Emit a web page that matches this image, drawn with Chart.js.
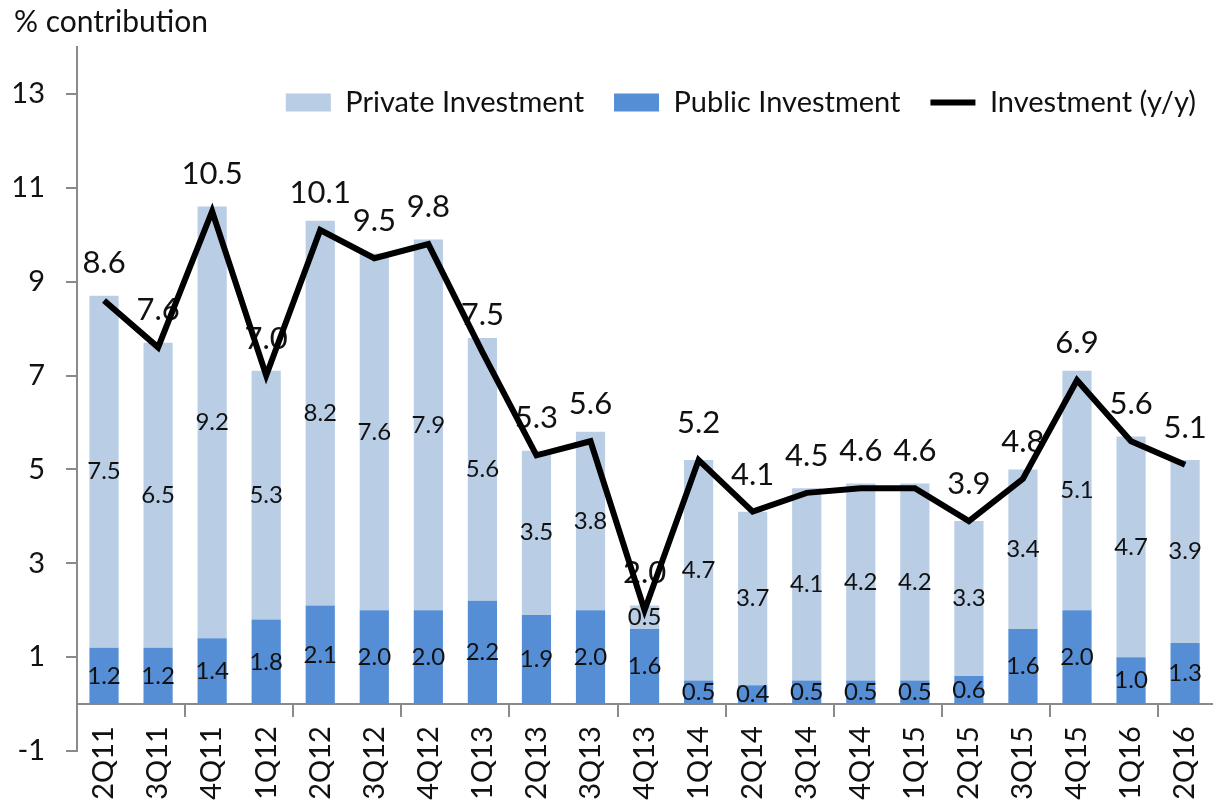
<!DOCTYPE html>
<html lang="en">
<head>
    <meta charset="UTF-8">
    <title>Investment contribution</title>
    <script src="https://cdn.jsdelivr.net/npm/chart.js"></script>
    <style>
        body { margin: 0; background: #fff; }
        canvas { display: block; }
    </style>
</head>
<body>
    <canvas id="investChart" width="1230" height="807"></canvas>
    <script>
        // Quarters on the x axis
        const quarters = ['2Q11', '3Q11', '4Q11', '1Q12', '2Q12', '3Q12', '4Q12', '1Q13', '2Q13', '3Q13', '4Q13',
            '1Q14', '2Q14', '3Q14', '4Q14', '1Q15', '2Q15', '3Q15', '4Q15', '1Q16', '2Q16'];

        // Contributions (percentage points)
        const publicInv = [1.2, 1.2, 1.4, 1.8, 2.1, 2.0, 2.0, 2.2, 1.9, 2.0, 1.6,
            0.5, 0.4, 0.5, 0.5, 0.5, 0.6, 1.6, 2.0, 1.0, 1.3];
        const privateInv = [7.5, 6.5, 9.2, 5.3, 8.2, 7.6, 7.9, 5.6, 3.5, 3.8, 0.5,
            4.7, 3.7, 4.1, 4.2, 4.2, 3.3, 3.4, 5.1, 4.7, 3.9];
        const totalInv = [8.6, 7.6, 10.5, 7.0, 10.1, 9.5, 9.8, 7.5, 5.3, 5.6, 2.0,
            5.2, 4.1, 4.5, 4.6, 4.6, 3.9, 4.8, 6.9, 5.6, 5.1];

        const yTicks = [-1, 1, 3, 5, 7, 9, 11, 13];

        const FONT = 'Lato';
        const TEXT = '#111';
        const AXIS = '#8a8a8a';

        Chart.defaults.font.family = FONT;
        Chart.defaults.color = TEXT;

        // value labels: drawn before the line so the line sits on top of them
        const valueLabels = {
            id: 'valueLabels',
            beforeDatasetDraw(chart, args) {
                if (args.index !== 2) return;
                const ctx = chart.ctx;
                ctx.save();
                ctx.fillStyle = TEXT;
                ctx.textAlign = 'center';
                // bar segments
                ctx.font = '24px ' + FONT;
                ctx.textBaseline = 'middle';
                [0, 1].forEach(di => {
                    const meta = chart.getDatasetMeta(di);
                    meta.data.forEach((bar, i) => {
                        const v = chart.data.datasets[di].data[i];
                        ctx.fillText(v.toFixed(1), bar.x, (bar.y + bar.base) / 2);
                    });
                });
                // line points
                ctx.font = '31px ' + FONT;
                ctx.textBaseline = 'alphabetic';
                chart.getDatasetMeta(2).data.forEach((pt, i) => {
                    ctx.fillText(totalInv[i].toFixed(1), pt.x, pt.y - 27);
                });
                ctx.restore();
            }
        };

        // keep the legend out of the layout and drop it inside the plot area
        const legendInside = {
            id: 'legendInside',
            beforeInit(chart) {
                const fit = chart.legend.fit;
                chart.legend.fit = function () {
                    fit.call(this);
                    this._fullHeight = this.height;
                    this.height = 0;
                };
            },
            afterLayout(chart) {
                const lg = chart.legend;
                lg.top = chart.chartArea.top + 11;
                lg.height = lg._fullHeight;
                lg.bottom = lg.top + lg.height;
            }
        };

        new Chart(document.getElementById('investChart'), {
            type: 'bar',
            data: {
                labels: quarters,
                datasets: [
                    {
                        label: 'Public Investment',
                        data: publicInv,
                        backgroundColor: '#558ed5',
                        stack: 'inv',
                        order: 1,
                        barPercentage: 0.54,
                        categoryPercentage: 1.0
                    },
                    {
                        label: 'Private Investment',
                        data: privateInv,
                        backgroundColor: '#b9cde5',
                        stack: 'inv',
                        order: 1,
                        barPercentage: 0.54,
                        categoryPercentage: 1.0
                    },
                    {
                        type: 'line',
                        label: 'Investment (y/y)',
                        data: totalInv,
                        borderColor: '#000',
                        backgroundColor: '#000',
                        borderWidth: 6,
                        pointRadius: 0,
                        tension: 0,
                        stack: 'total',
                        order: 0
                    }
                ]
            },
            options: {
                responsive: false,
                animation: false,
                devicePixelRatio: 1,
                layout: {
                    padding: { left: 14, right: 4, top: 0, bottom: 56 }
                },
                plugins: {
                    title: {
                        display: true,
                        text: '% contribution',
                        align: 'start',
                        color: TEXT,
                        font: { size: 30, weight: 'normal' },
                        padding: { top: 4, bottom: 7 }
                    },
                    legend: {
                        position: 'top',
                        align: 'end',
                        labels: {
                            usePointStyle: true,
                            pointStyleWidth: 45,
                            boxHeight: 18,
                            padding: 30,
                            color: TEXT,
                            font: { size: 29 },
                            generateLabels(chart) {
                                const items = Chart.defaults.plugins.legend.labels.generateLabels(chart);
                                items.forEach(it => {
                                    if (it.datasetIndex === 2) {
                                        it.pointStyle = 'line';
                                        it.lineWidth = 6;
                                        it.strokeStyle = '#000';
                                    } else {
                                        it.pointStyle = 'rect';
                                        it.lineWidth = 0;
                                    }
                                });
                                const pos = { 1: 0, 0: 1, 2: 2 };
                                return items.sort((a, b) => pos[a.datasetIndex] - pos[b.datasetIndex]);
                            }
                        }
                    },
                    tooltip: { enabled: false }
                },
                scales: {
                    x: {
                        stacked: true,
                        position: { y: 0 },
                        offset: true,
                        grid: {
                            drawOnChartArea: false,
                            offset: true,
                            tickLength: 12,
                            lineWidth: 2,
                            tickColor: c => (c.index > 0 && c.index % 2 === 0 && c.index < quarters.length) ? AXIS : 'rgba(0,0,0,0)'
                        },
                        border: { color: AXIS, width: 2 },
                        ticks: {
                            autoSkip: false,
                            minRotation: 90,
                            maxRotation: 90,
                            padding: 10,
                            color: TEXT,
                            font: { size: 29 }
                        }
                    },
                    y: {
                        stacked: true,
                        min: -1,
                        max: 14,
                        afterBuildTicks: s => { s.ticks = yTicks.map(v => ({ value: v })); },
                        afterFit: s => { s.width = 63; },
                        grid: {
                            drawOnChartArea: false,
                            tickLength: 11,
                            lineWidth: 2,
                            tickColor: AXIS
                        },
                        border: { color: AXIS, width: 2 },
                        ticks: {
                            padding: 21,
                            color: TEXT,
                            font: { size: 29 }
                        }
                    }
                }
            },
            plugins: [legendInside, valueLabels]
        });
    </script>
</body>
</html>
